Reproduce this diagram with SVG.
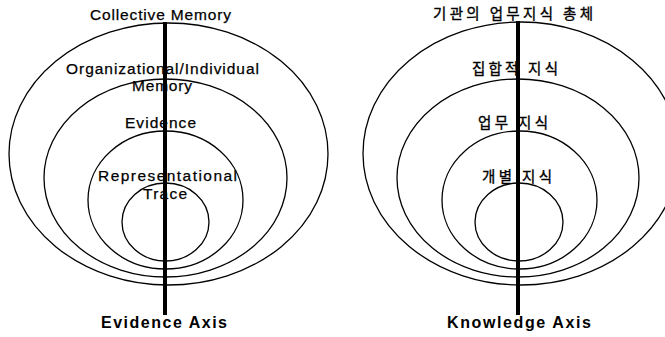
<svg xmlns="http://www.w3.org/2000/svg" width="665" height="337" viewBox="0 0 665 337">
<style>
.ring{fill:none;stroke:#000;stroke-width:1.3}
.lbl{font-family:"Liberation Sans",Arial,sans-serif;font-size:15.5px;fill:#000;stroke:#000;stroke-width:0.25}
.kr{font-family:"Noto Sans CJK KR","Noto Sans",sans-serif;font-size:14.5px;fill:#000;stroke:#000;stroke-width:0.35}
.axis{font-family:"Liberation Sans",Arial,sans-serif;font-size:16px;font-weight:bold;fill:#000}
.ax{stroke:#000;stroke-width:4;fill:none}
</style>
<rect width="665" height="337" fill="#fff"/>
<g id="left-diagram">
  <g id="collective-memory">
    <ellipse class="ring" cx="168.5" cy="154" rx="159.5" ry="131"/>
    <text class="lbl" x="90" y="20" textLength="141" lengthAdjust="spacing">Collective Memory</text>
  </g>
  <g id="org-individual-memory">
    <ellipse class="ring" cx="165.5" cy="178" rx="121.5" ry="99"/>
    <text class="lbl" x="66" y="74" textLength="193" lengthAdjust="spacing">Organizational/Individual</text>
    <text class="lbl" x="132" y="91" textLength="60" lengthAdjust="spacing">Memory</text>
  </g>
  <g id="evidence">
    <ellipse class="ring" cx="165.5" cy="200" rx="77.5" ry="69"/>
    <text class="lbl" x="125" y="128" textLength="71" lengthAdjust="spacing">Evidence</text>
  </g>
  <g id="representational-trace">
    <ellipse class="ring" cx="165.5" cy="222" rx="43.5" ry="39"/>
    <text class="lbl" x="98" y="181" textLength="139" lengthAdjust="spacing">Representational</text>
    <text class="lbl" x="143" y="199" textLength="44" lengthAdjust="spacing">Trace</text>
  </g>
  <g id="evidence-axis-label">
    <text class="axis" x="101" y="328" textLength="126" lengthAdjust="spacing">Evidence Axis</text>
  </g>
</g>
<g id="right-diagram">
  <g id="org-total-knowledge">
    <ellipse class="ring" cx="521" cy="153.5" rx="158" ry="131.5"/>
    <text class="kr" x="433" y="19" textLength="160" lengthAdjust="spacing">기관의 업무지식 총체</text>
  </g>
  <g id="collective-knowledge">
    <ellipse class="ring" cx="518" cy="178" rx="121" ry="99"/>
    <text class="kr" x="472" y="74" textLength="86" lengthAdjust="spacing">집합적 지식</text>
  </g>
  <g id="business-knowledge">
    <ellipse class="ring" cx="519.5" cy="200" rx="77.5" ry="69"/>
    <text class="kr" x="478" y="128" textLength="70" lengthAdjust="spacing">업무 지식</text>
  </g>
  <g id="individual-knowledge">
    <ellipse class="ring" cx="519" cy="222" rx="44" ry="39"/>
    <text class="kr" x="482" y="182" textLength="70" lengthAdjust="spacing">개별 지식</text>
  </g>
  <g id="knowledge-axis-label">
    <text class="axis" x="447" y="328" textLength="144" lengthAdjust="spacing">Knowledge Axis</text>
  </g>
</g>
<g id="connectors">
  <line class="ax" x1="165" y1="22" x2="165" y2="315"/>
  <line class="ax" x1="518" y1="21" x2="518" y2="315"/>
</g>
</svg>
